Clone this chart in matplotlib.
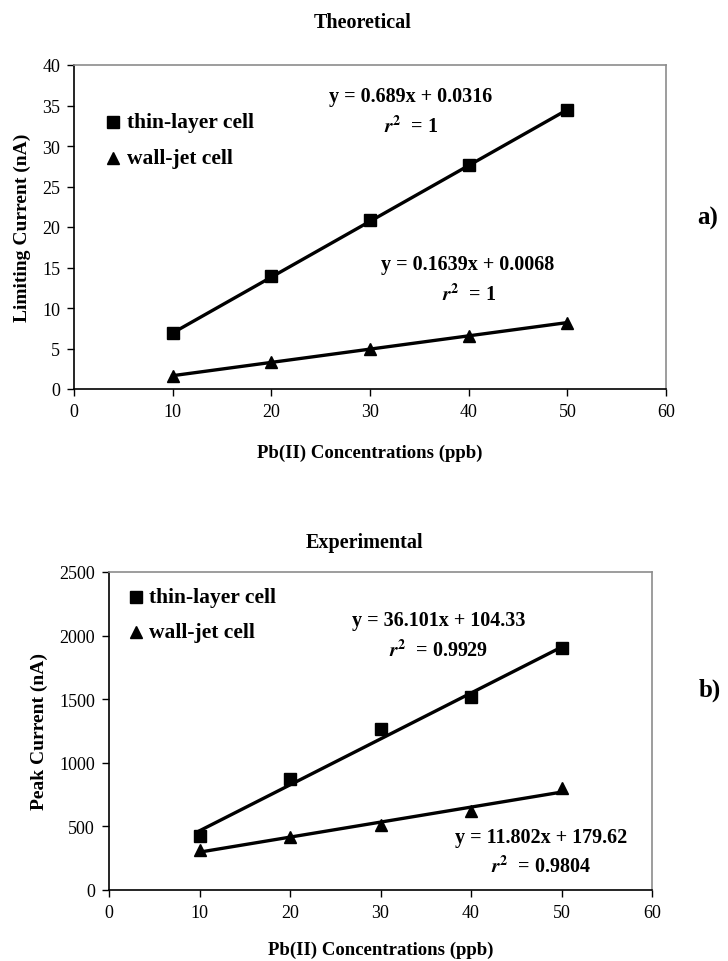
#!/usr/bin/env python3
"""Theoretical vs experimental calibration plots for Pb(II) in two cell types."""

import matplotlib
matplotlib.use("Agg")
import matplotlib.pyplot as plt
import numpy as np

plt.rcParams["font.family"] = ["Liberation Serif", "DejaVu Serif"]
plt.rcParams["mathtext.fontset"] = "stix"

# concentrations (ppb)
conc = [10, 20, 30, 40, 50]

# theoretical limiting current (nA)
theo_thin = [6.9, 14.0, 20.9, 27.6, 34.5]
theo_wall = [1.6, 3.3, 4.9, 6.6, 8.2]
theo_thin_fit = [0.689, 0.0316]
theo_wall_fit = [0.1639, 0.0068]
theo_labels = ["y = 0.689x + 0.0316", "y = 0.1639x + 0.0068"]
theo_r2 = ["1", "1"]

# experimental peak current (nA)
exp_thin = [425, 875, 1265, 1520, 1905]
exp_wall = [315, 420, 510, 620, 805]
exp_thin_fit = [36.101, 104.33]
exp_wall_fit = [11.802, 179.62]
exp_labels = ["y = 36.101x + 104.33", "y = 11.802x + 179.62"]
exp_r2 = ["0.9929", "0.9804"]

series_names = ["thin-layer cell", "wall-jet cell"]

W, H = 728, 962
fig = plt.figure(figsize=(W / 100, H / 100), dpi=100)

R2 = r"$\bfit{r}^{\mathbf{2}}$  = "


def px_axes(left, top, right, bottom):
    return fig.add_axes([left / W, 1 - bottom / H, (right - left) / W, (bottom - top) / H])


def style_axes(ax, ymax, ystep, xpad):
    ax.set_xlim(0, 60)
    ax.set_ylim(0, ymax)
    ax.set_xticks(np.arange(0, 61, 10))
    ax.set_yticks(np.arange(0, ymax + 1, ystep))
    for side in ("top", "right"):
        ax.spines[side].set_color("#8c8c8c")
        ax.spines[side].set_linewidth(1.2)
    for side in ("left", "bottom"):
        ax.spines[side].set_color("black")
        ax.spines[side].set_linewidth(1.2)
    ax.tick_params(direction="out", length=5, width=1.0, labelsize=13, pad=5)
    ax.set_xlabel("Pb(II) Concentrations (ppb)", fontsize=13.5, fontweight="bold", labelpad=xpad)


def draw_series(ax, x, ys, fits):
    xs = np.array([min(x), max(x)])
    for y, fit, mk in zip(ys, fits, ["s", "^"]):
        ax.plot(xs, fit[0] * xs + fit[1], color="black", lw=2.4, zorder=2)
        ax.plot(x, y, linestyle="none", marker=mk, ms=8.5, color="black", zorder=3)


def draw_legend(ax, x0, y0, dy):
    for i, (mk, name) in enumerate(zip(["s", "^"], series_names)):
        yy = y0 - i * dy
        ax.plot([x0], [yy], marker=mk, ms=8, color="black", linestyle="none",
                transform=ax.transAxes, clip_on=False)
        ax.text(x0 + 0.024, yy, name, transform=ax.transAxes, fontsize=15.5,
                fontweight="bold", va="center", ha="left")


def annotate(ax, x, y, txt):
    ax.text(x, y, txt, transform=ax.transAxes, fontsize=14.5,
            fontweight="bold", ha="center", va="center")


# ---- a) Theoretical ----
ax1 = px_axes(74, 66, 666, 390)
style_axes(ax1, 40, 5, 17)
draw_series(ax1, conc, [theo_thin, theo_wall], [theo_thin_fit, theo_wall_fit])
ax1.set_ylabel("Limiting Current (nA)", fontsize=14, fontweight="bold", labelpad=8)
draw_legend(ax1, 0.066, 0.823, 0.109)
annotate(ax1, 0.568, 0.904, theo_labels[0])
annotate(ax1, 0.57, 0.81, R2 + theo_r2[0])
annotate(ax1, 0.665, 0.386, theo_labels[1])
annotate(ax1, 0.668, 0.293, R2 + theo_r2[1])
fig.text(363 / W, 1 - 23 / H, "Theoretical", fontsize=14.5, fontweight="bold",
         ha="center", va="center")
fig.text(708 / W, 1 - 218 / H, "a)", fontsize=18, fontweight="bold",
         ha="center", va="center")

# ---- b) Experimental ----
ax2 = px_axes(109, 573, 652, 891)
style_axes(ax2, 2500, 500, 14)
draw_series(ax2, conc, [exp_thin, exp_wall], [exp_thin_fit, exp_wall_fit])
ax2.set_ylabel("Peak Current (nA)", fontsize=14, fontweight="bold", labelpad=8)
draw_legend(ax2, 0.05, 0.921, 0.11)
annotate(ax2, 0.607, 0.849, exp_labels[0])
annotate(ax2, 0.607, 0.755, R2 + exp_r2[0])
annotate(ax2, 0.795, 0.167, exp_labels[1])
annotate(ax2, 0.795, 0.075, R2 + exp_r2[1])
fig.text(365 / W, 1 - 543 / H, "Experimental", fontsize=14.5, fontweight="bold",
         ha="center", va="center")
fig.text(710 / W, 1 - 690 / H, "b)", fontsize=18, fontweight="bold",
         ha="center", va="center")

fig.savefig("out.png", dpi=100)
